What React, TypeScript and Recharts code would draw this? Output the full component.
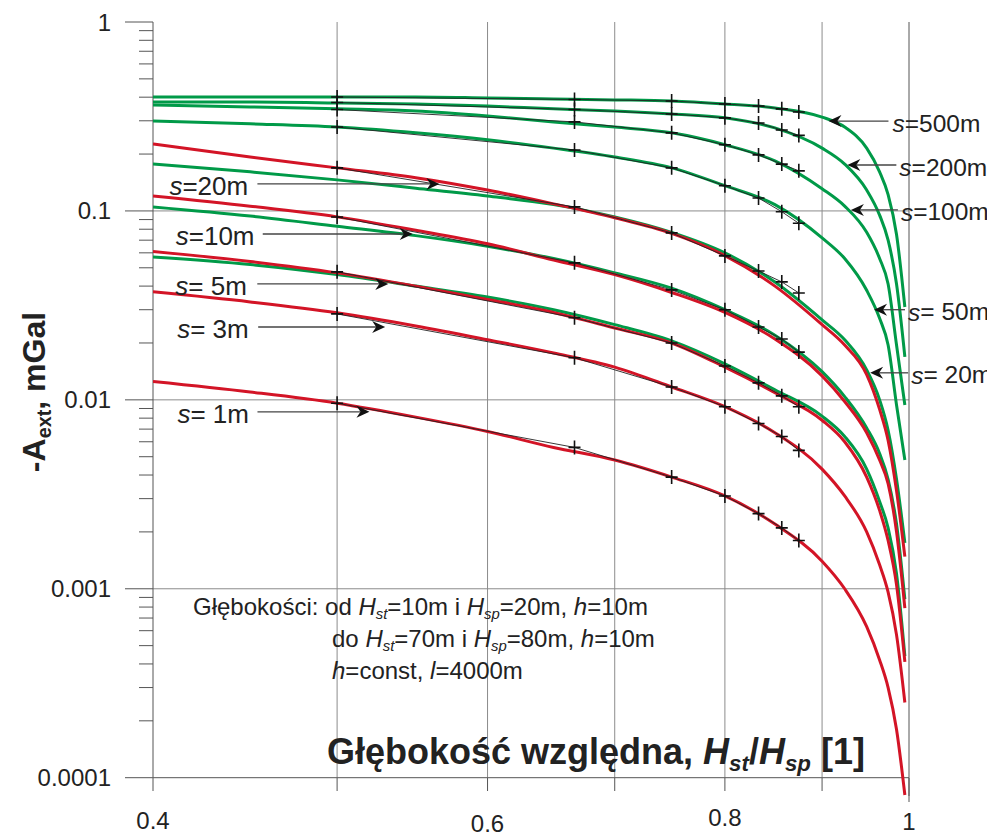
import { LineChart, Line, XAxis, YAxis, ReferenceLine, ReferenceDot } from 'recharts'

const FONT = '"Liberation Sans", Arial, Helvetica, sans-serif'
const GREEN = '#009a48'
const RED = '#d31426'

// relative depth H_st/H_sp
const curveX = [0.4, 0.45, 0.5, 0.55, 0.6, 0.65, 0.7, 0.75, 0.8, 0.85, 0.9, 0.925, 0.95, 0.965, 0.975, 0.985, 0.995]
const approxX = [0.5, 0.6667, 0.75, 0.8, 0.8333, 0.8571, 0.875]

// -A_ext [mGal], green curves
const green500 = [0.401, 0.401, 0.401, 0.401, 0.396, 0.391, 0.387, 0.382, 0.368, 0.351, 0.314, 0.278, 0.215, 0.161, 0.122, 0.075, 0.031]
const green200 = [0.377, 0.377, 0.373, 0.368, 0.359, 0.347, 0.338, 0.326, 0.311, 0.275, 0.215, 0.177, 0.129, 0.095, 0.07, 0.041, 0.0169]
const green100 = [0.364, 0.355, 0.347, 0.338, 0.318, 0.296, 0.278, 0.259, 0.224, 0.184, 0.131, 0.106, 0.077, 0.056, 0.041, 0.0195, 0.0094]
const green50 = [0.299, 0.289, 0.278, 0.259, 0.238, 0.215, 0.193, 0.169, 0.136, 0.108, 0.072, 0.056, 0.038, 0.027, 0.0195, 0.0094, 0.0048]
const green20 = [0.177, 0.161, 0.146, 0.132, 0.12, 0.108, 0.093, 0.077, 0.06, 0.042, 0.0265, 0.0208, 0.0144, 0.01, 0.0069, 0.0038, 0.00175]
const green10 = [0.105, 0.094, 0.083, 0.074, 0.065, 0.056, 0.047, 0.039, 0.03, 0.022, 0.0141, 0.0104, 0.0071, 0.0052, 0.0038, 0.0022, 0.00088]
const green5 = [0.057, 0.052, 0.046, 0.04, 0.035, 0.03, 0.025, 0.0205, 0.0155, 0.0113, 0.0082, 0.0064, 0.0043, 0.0029, 0.0021, 0.0012, 0.00044]

// red curves
const red20 = [0.226, 0.193, 0.169, 0.15, 0.129, 0.109, 0.092, 0.076, 0.058, 0.04, 0.025, 0.0195, 0.0136, 0.0089, 0.0061, 0.0033, 0.00148]
const red10 = [0.12, 0.106, 0.093, 0.079, 0.067, 0.055, 0.046, 0.037, 0.029, 0.021, 0.0134, 0.0098, 0.0067, 0.0048, 0.0036, 0.002, 0.00079]
const red5 = [0.061, 0.054, 0.047, 0.04, 0.034, 0.029, 0.024, 0.02, 0.0149, 0.0109, 0.0078, 0.006, 0.0039, 0.0026, 0.0018, 0.00105, 0.00041]
const red3 = [0.0373, 0.033, 0.0289, 0.0246, 0.0208, 0.0177, 0.0149, 0.0117, 0.0092, 0.0067, 0.0043, 0.0031, 0.002, 0.00134, 0.00096, 0.00057, 0.00025]
const red1 = [0.0125, 0.011, 0.0096, 0.0081, 0.0068, 0.0056, 0.0048, 0.0039, 0.0031, 0.0022, 0.0014, 0.001, 0.00063, 0.00042, 0.0003, 0.00018, 0.000081]

// approximations (thin black, + markers)
const approx500 = [0.401, 0.389, 0.382, 0.368, 0.359, 0.347, 0.334]
const approx200 = [0.375, 0.344, 0.326, 0.311, 0.292, 0.268, 0.251]
const approx100 = [0.344, 0.296, 0.259, 0.224, 0.198, 0.177, 0.163]
const approx50 = [0.278, 0.21, 0.169, 0.136, 0.117, 0.099, 0.086]
const approx20 = [0.169, 0.105, 0.0765, 0.0578, 0.0481, 0.0421, 0.0368]
const approx10 = [0.0929, 0.0531, 0.0382, 0.03, 0.0243, 0.021, 0.0179]
const approx5 = [0.0476, 0.0272, 0.02, 0.0151, 0.0123, 0.0105, 0.0092]
const approx3 = [0.0285, 0.0167, 0.0117, 0.0092, 0.0075, 0.0064, 0.0054]
const approx1 = [0.0096, 0.0056, 0.0039, 0.0031, 0.0025, 0.0021, 0.0018]

const xTicks = [0.4, 0.5, 0.6, 0.7, 0.8, 0.9, 1]
const xGrid = [0.5, 0.6, 0.7, 0.8, 0.9]
const xLabels: Record<string, string> = { '0.4': '0.4', '0.6': '0.6', '0.8': '0.8', '1': '1' }
const yMajor = [0.0001, 0.001, 0.01, 0.1, 1]
const yGrid = [0.1, 0.01, 0.001]
const yTicks = [
  ...yMajor,
  ...yMajor.slice(0, 4).flatMap((d) => [2, 3, 4, 5, 6, 7, 8, 9].map((k) => +(k * d).toPrecision(3))),
]
const Y_MIN = 0.0001
// the s=1m curve runs a little below the axis, so the scale reaches a bit lower
const Y_DOMAIN = [0.00008, 1]
const AXIS_UP = 18 // px between the plot bottom and the 0.0001 axis line

// arrow annotations: tip in data units, text/line offsets in px
const leftLabels = [
  { s: '20m', x: 0.566, y: 0.139, textDx: -270, lineDx: -182 },
  { s: '10m', x: 0.548, y: 0.0755, textDx: -237, lineDx: -150 },
  { s: ' 5m', x: 0.532, y: 0.0411, textDx: -213, lineDx: -131 },
  { s: ' 3m', x: 0.53, y: 0.0243, textDx: -208, lineDx: -127 },
  { s: ' 1m', x: 0.52, y: 0.00864, textDx: -192, lineDx: -112 },
]
const rightLabels = [
  { s: '500m', x: 0.907, y: 0.299, textDx: 64, lineDx: 60 },
  { s: '200m', x: 0.928, y: 0.175, textDx: 52, lineDx: 49 },
  { s: '100m', x: 0.932, y: 0.1012, textDx: 50, lineDx: 47 },
  { s: ' 50m', x: 0.9585, y: 0.03, textDx: 34, lineDx: 31 },
  { s: ' 20m', x: 0.954, y: 0.0139, textDx: 41, lineDx: 38 },
]

const pts = (xs: number[], ys: number[]) => xs.map((x, i) => ({ x, y: ys[i] }))

const greens = [green500, green200, green100, green50, green20, green10, green5]
const reds = [red20, red10, red5, red3, red1]
const approxes = [approx500, approx200, approx100, approx50, approx20, approx10, approx5, approx3, approx1]

function YTick({ x, y, payload }: any) {
  const v = payload.value
  const major = yMajor.includes(v)
  return (
    <g>
      <line x1={x - (major ? 28 : 14)} x2={x} y1={y} y2={y} stroke="#555" strokeWidth={1} />
      {major && (
        <text x={x - 42} y={y} textAnchor="end" dominantBaseline="central" fontSize={24} fill="#222">
          {String(v)}
        </text>
      )}
    </g>
  )
}

const xLabelDy: Record<string, number> = { '0.4': 24, '0.6': 27, '0.8': 21, '1': 25 }

function XTick({ x, y, payload }: any) {
  const k = String(payload.value)
  const ay = y - AXIS_UP
  return (
    <g>
      <line x1={x} x2={x} y1={ay} y2={ay + (k === '1' ? 24 : 13)} stroke="#555" strokeWidth={1} />
      {xLabels[k] && (
        <text x={x} y={y + xLabelDy[k]} textAnchor="middle" dominantBaseline="central" fontSize={24} fill="#222">
          {xLabels[k]}
        </text>
      )}
    </g>
  )
}

const plusDot = (p: any) => (
  <path
    key={`d${p.index}`}
    d={`M${p.cx - 6},${p.cy}H${p.cx + 6}M${p.cx},${p.cy - 7}V${p.cy + 7}`}
    stroke="#111"
    strokeWidth={1.6}
    fill="none"
  />
)

function Arrow({ cx, cy, s, textDx, lineDx, side }: any) {
  const dir = side === 'left' ? 1 : -1 // left labels point right
  const head = `M${cx},${cy} L${cx - dir * 13},${cy - 6} L${cx - dir * 9},${cy} L${cx - dir * 13},${cy + 6} Z`
  return (
    <g>
      <line x1={cx + lineDx} x2={cx - dir * 9} y1={cy} y2={cy} stroke="#444" strokeWidth={1.3} />
      <path d={head} fill="#111" />
      <text x={cx + textDx} y={cy + 2} dominantBaseline="central" fontSize={side === 'left' ? 26 : 24.5} fill="#222">
        <tspan fontStyle="italic">s</tspan>={s}
      </text>
    </g>
  )
}

const sub = { fontSize: '0.62em', verticalAlign: 'baseline', position: 'relative' as const, top: '0.3em', lineHeight: 0 }

export default function App() {
  return (
    <div style={{ position: 'relative', width: 987, height: 828, fontFamily: FONT, color: '#222' }}>
      <style>{'body{overflow:hidden}'}</style>
      <LineChart width={987} height={828} margin={{ top: 14, right: 86, bottom: 0, left: 0 }} style={{ fontFamily: FONT }}>
        <XAxis
          type="number"
          dataKey="x"
          scale="log"
          domain={[0.4, 1]}
          ticks={xTicks}
          interval={0}
          tick={(p: any) => <XTick {...p} />}
          tickSize={0}
          tickMargin={0}
          height={40}
          axisLine={false}
          allowDataOverflow
        />
        <YAxis
          type="number"
          scale="log"
          domain={Y_DOMAIN}
          ticks={yTicks}
          interval={0}
          tick={(p: any) => <YTick {...p} />}
          tickSize={0}
          tickMargin={0}
          width={145}
          axisLine={false}
          allowDataOverflow
        />
        {xGrid.map((v) => (
          <ReferenceLine key={`vx${v}`} segment={[{ x: v, y: Y_MIN }, { x: v, y: 1 }]} stroke="#8c8c8c" strokeWidth={1} />
        ))}
        {yGrid.map((v) => (
          <ReferenceLine key={`hy${v}`} y={v} stroke="#8c8c8c" strokeWidth={1} />
        ))}
        <ReferenceLine y={Y_MIN} stroke="#555" strokeWidth={1} />
        <ReferenceLine segment={[{ x: 0.4, y: Y_MIN }, { x: 0.4, y: 1 }]} stroke="#555" strokeWidth={1} />
        <ReferenceLine x={1} stroke="#555" strokeWidth={1} />
        {greens.map((ys, i) => (
          <Line key={`g${i}`} data={pts(curveX, ys)} dataKey="y" type="monotone" stroke={GREEN} strokeWidth={3} dot={false} isAnimationActive={false} />
        ))}
        {reds.map((ys, i) => (
          <Line key={`r${i}`} data={pts(curveX, ys)} dataKey="y" type="monotone" stroke={RED} strokeWidth={3} dot={false} isAnimationActive={false} />
        ))}
        {approxes.map((ys, i) => (
          <Line key={`a${i}`} data={pts(approxX, ys)} dataKey="y" type="linear" stroke="#222" strokeWidth={0.9} dot={plusDot} isAnimationActive={false} />
        ))}
        {leftLabels.map((l) => (
          <ReferenceDot key={`l${l.s}`} x={l.x} y={l.y} r={1} shape={(p: any) => <Arrow {...p} {...l} side="left" />} />
        ))}
        {rightLabels.map((l) => (
          <ReferenceDot key={`r${l.s}`} x={l.x} y={l.y} r={1} shape={(p: any) => <Arrow {...p} {...l} side="right" />} />
        ))}
      </LineChart>

      {/* y axis title */}
      <div
        style={{
          position: 'absolute',
          left: 26,
          top: 384,
          transform: 'translate(-50%, -50%) rotate(-90deg)',
          whiteSpace: 'nowrap',
          fontWeight: 'bold',
          fontSize: 32,
          lineHeight: '36px',
        }}
      >
        -A<span style={sub}>ext</span>, mGal
      </div>

      {/* description */}
      <div style={{ position: 'absolute', left: 185, top: 583, fontSize: 24, lineHeight: '32px', whiteSpace: 'nowrap' }}>
        <div>
          Głębokości: od <i>H</i><span style={sub}><i>st</i></span>=10m i <i>H</i><span style={sub}><i>sp</i></span>=20m, <i>h</i>=10m
        </div>
        <div style={{ paddingLeft: 139 }}>
          do <i>H</i><span style={sub}><i>st</i></span>=70m i <i>H</i><span style={sub}><i>sp</i></span>=80m, <i>h</i>=10m
        </div>
        <div style={{ paddingLeft: 139 }}>
          <i>h</i>=const, <i>l</i>=4000m
        </div>
      </div>

      {/* x axis title */}
      <div style={{ position: 'absolute', left: 319, top: 724, fontSize: 36, fontWeight: 'bold', lineHeight: '40px', whiteSpace: 'nowrap' }}>
        Głębokość względna, <i>H</i><span style={sub}><i>st</i></span>/<i>H</i><span style={sub}><i>sp</i></span> [1]
      </div>
    </div>
  )
}
